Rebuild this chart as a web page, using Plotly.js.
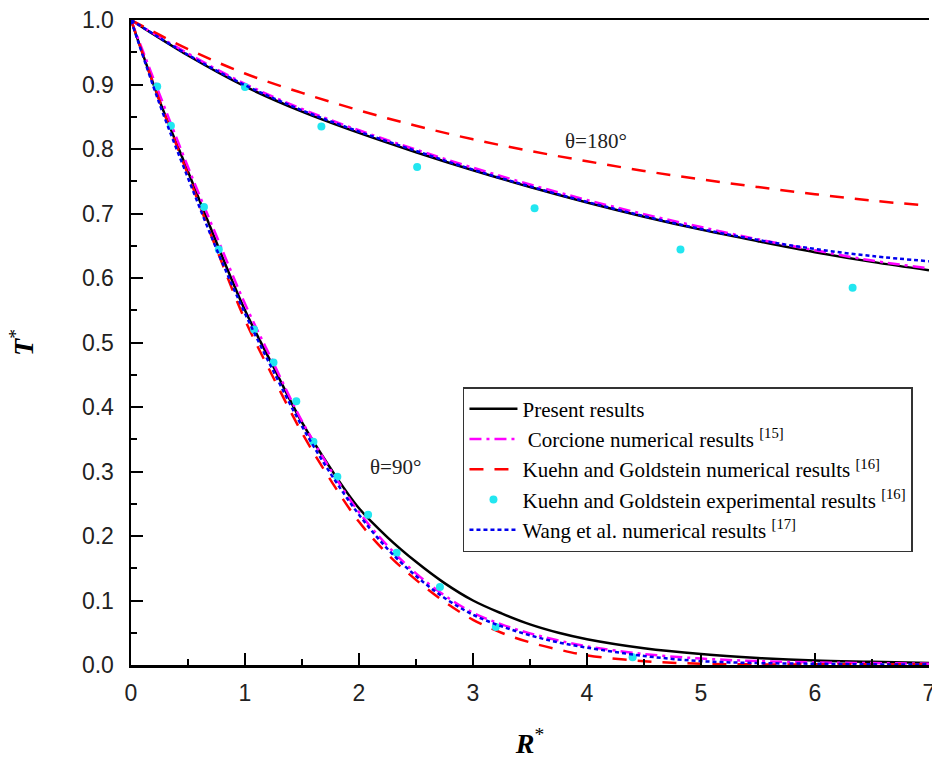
<!DOCTYPE html>
<html>
<head>
<meta charset="utf-8">
<script src="https://cdn.plot.ly/plotly-3.0.1.min.js"></script>
<style>html,body{margin:0;padding:0;background:#fff;}#chart{width:932px;height:759px;}</style>
</head>
<body>
<div id="chart"></div>
<script>
// theta = 180 deg curves
const x180 = [0, 0.5, 1, 1.5, 2, 2.5, 3, 3.5, 4, 4.5, 5, 5.5, 6, 6.5, 7];
const present180 = [1, 0.945, 0.897, 0.858, 0.825, 0.795, 0.767, 0.741, 0.717, 0.695, 0.675, 0.657, 0.640, 0.625, 0.612];
const corcione180 = [1, 0.948, 0.901, 0.862, 0.829, 0.799, 0.771, 0.745, 0.721, 0.699, 0.679, 0.660, 0.643, 0.627, 0.615];
const kuehnNum180 = [1, 0.955, 0.917, 0.887, 0.860, 0.836, 0.815, 0.797, 0.781, 0.766, 0.753, 0.741, 0.730, 0.720, 0.712];
const wang180 = [1, 0.946, 0.899, 0.860, 0.827, 0.797, 0.768, 0.742, 0.718, 0.696, 0.676, 0.659, 0.645, 0.634, 0.626];
const expX180 = [1.0, 1.67, 2.51, 3.54, 4.82, 6.33];
const expY180 = [0.896, 0.835, 0.772, 0.708, 0.644, 0.585];

// theta = 90 deg curves
const x90 = [0, 0.25, 0.5, 0.75, 1, 1.25, 1.5, 1.75, 2, 2.25, 2.5, 2.75, 3, 3.25, 3.5, 3.75, 4, 4.5, 5, 5.5, 6, 6.5, 7];
const present90 = [1, 0.875, 0.765, 0.655, 0.55, 0.462, 0.376, 0.305, 0.243, 0.198, 0.160, 0.127, 0.100, 0.080, 0.063, 0.050, 0.040, 0.026, 0.017, 0.011, 0.007, 0.005, 0.003];
const corcione90 = [1, 0.885, 0.772, 0.665, 0.56, 0.468, 0.378, 0.303, 0.237, 0.185, 0.142, 0.108, 0.081, 0.063, 0.049, 0.038, 0.029, 0.017, 0.010, 0.006, 0.004, 0.003, 0.002];
const kuehnNum90 = [1, 0.875, 0.76, 0.645, 0.535, 0.445, 0.36, 0.287, 0.222, 0.172, 0.132, 0.098, 0.070, 0.050, 0.035, 0.024, 0.015, 0.006, 0.002, 0.001, 0.001, 0.001, 0.001];
const wang90 = [1, 0.87, 0.755, 0.645, 0.545, 0.455, 0.37, 0.297, 0.233, 0.180, 0.138, 0.104, 0.078, 0.060, 0.046, 0.035, 0.027, 0.014, 0.006, 0.003, 0.002, 0.001, 0.001];
const expX90 = [0.23, 0.35, 0.64, 0.77, 1.08, 1.25, 1.45, 1.60, 1.81, 2.08, 2.33, 2.71, 3.20, 4.40];
const expY90 = [0.897, 0.836, 0.710, 0.644, 0.520, 0.469, 0.409, 0.346, 0.292, 0.233, 0.174, 0.121, 0.059, 0.012];

const names = [
  'Present results',
  ' Corcione numerical results <sup>[15]</sup>',
  'Kuehn and Goldstein numerical results <sup>[16]</sup>',
  'Kuehn and Goldstein experimental results <sup>[16]</sup>',
  'Wang et al. numerical results <sup>[17]</sup>'
];
const tickValsX = [0, 1, 2, 3, 4, 5, 6, 7];
const annTexts = ['θ=180°', 'θ=90°'];

const lineBlack = {color: '#000', width: 2.5, shape: 'spline'};
const lineMag = {color: '#ff00ff', width: 2.5, dash: '12px,5px,3px,5px', shape: 'spline'};
const lineRed = {color: '#ff0000', width: 2.5, dash: '14px,11px', shape: 'spline'};
const lineBlue = {color: '#0000ee', width: 2.5, dash: '4px,3px', shape: 'spline'};
const mk = {color: '#22e6f0', size: 8};

function ln(x, y, name, line, group, show) {
  return {x: x, y: y, type: 'scatter', mode: 'lines', name: name, line: line,
    legendgroup: group, showlegend: show};
}

const traces = [
  ln(x180, present180, names[0], lineBlack, 'a', true),
  ln(x90, present90, names[0], lineBlack, 'a', false),
  ln(x180, corcione180, names[1], lineMag, 'b', true),
  ln(x90, corcione90, names[1], lineMag, 'b', false),
  ln(x180, kuehnNum180, names[2], lineRed, 'c', true),
  ln(x90, kuehnNum90, names[2], lineRed, 'c', false),
  {x: expX180, y: expY180, type: 'scatter', mode: 'markers', name: names[3], marker: mk, legendgroup: 'd', showlegend: true},
  {x: expX90, y: expY90, type: 'scatter', mode: 'markers', name: names[3], marker: mk, legendgroup: 'd', showlegend: false},
  ln(x180, wang180, names[4], lineBlue, 'e', true),
  ln(x90, wang90, names[4], lineBlue, 'e', false)
];

const tickFont = {family: 'Liberation Sans, Arial, sans-serif', size: 23, color: '#222'};
const serif = 'Liberation Serif, Times New Roman, serif';
const layout = {
  width: 932, height: 759,
  margin: {l: 131, r: 3, t: 20, b: 94},
  paper_bgcolor: '#fff', plot_bgcolor: '#fff',
  showlegend: true,
  xaxis: {
    range: [0, 7], tickvals: tickValsX, ticks: 'inside', ticklen: 12, tickwidth: 2, tickcolor: '#000',
    minor: {dtick: 0.5, ticks: 'inside', ticklen: 6, tickwidth: 2, tickcolor: '#000'},
    showline: true, linecolor: '#000', linewidth: 2.5, mirror: true, showgrid: false, zeroline: false,
    tickfont: tickFont, ticklabelstandoff: 6, ticklabeloverflow: 'allow',
    title: {text: '<b><i>R</i></b><sup>*</sup>', font: {family: serif, size: 28, color: '#000'}, standoff: 32}
  },
  yaxis: {
    range: [0, 1], dtick: 0.1, tickformat: '.1f', ticks: 'inside', ticklen: 12, tickwidth: 2, tickcolor: '#000',
    minor: {dtick: 0.05, ticks: 'inside', ticklen: 6, tickwidth: 2, tickcolor: '#000'},
    showline: true, linecolor: '#000', linewidth: 2.5, mirror: false, showgrid: false, zeroline: false,
    tickfont: tickFont, ticklabelstandoff: 10,
    title: {text: '<b><i>T</i></b><sup>*</sup>', font: {family: serif, size: 28, color: '#000'}, standoff: 40}
  },
  legend: {
    x: 0.416, y: 0.431, xanchor: 'left', yanchor: 'top',
    bgcolor: '#fff', bordercolor: '#333', borderwidth: 1.5,
    font: {family: serif, size: 21, color: '#000'},
    itemwidth: 48, tracegroupgap: 0
  },
  annotations: [
    {x: 4.08, y: 0.812, xref: 'x', yref: 'y', text: annTexts[0], showarrow: false, font: {family: serif, size: 21, color: '#222'}},
    {x: 2.32, y: 0.307, xref: 'x', yref: 'y', text: annTexts[1], showarrow: false, font: {family: serif, size: 21, color: '#222'}}
  ]
};
Plotly.newPlot('chart', traces, layout, {displayModeBar: false, staticPlot: true});
</script>
</body>
</html>
